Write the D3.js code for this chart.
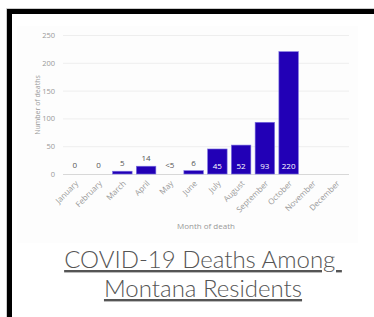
<!DOCTYPE html>
<html>
<head>
<meta charset="utf-8">
<script src="https://cdn.jsdelivr.net/npm/d3@7"></script>
<style>
  body { margin: 0; background: #fff; }
  svg { display: block; }
</style>
</head>
<body>
<div id="chart"></div>
<script>
const months = ["January", "February", "March", "April", "May", "June",
    "July", "August", "September", "October", "November", "December"]
const deaths = [0, 0, 5, 14, null, 6, 45, 52, 93, 220, null, null]
const labels = ["0", "0", "5", "14", "<5", "6", "45", "52", "93", "220", "", ""]
const yTicks = [0, 50, 100, 150, 200, 250]
const titleLines = ["COVID-19 Deaths Among ", "Montana Residents"]

const W = 374, H = 317

const svg = d3.select("#chart").append("svg")
    .attr("width", W)
    .attr("height", H)

// frame
svg.append("path")
    .attr("d", "M9.5,317 V11.5 H374")
    .style("fill", "none")
    .style("stroke", "#000")
    .style("stroke-width", 5)
svg.append("path")
    .attr("d", "M6.5,317 V8.5 H374")
    .style("fill", "none")
    .style("stroke", "#ccc")
    .style("stroke-width", 1)

// chart panel
svg.append("rect")
    .attr("x", 17).attr("y", 26)
    .attr("width", 341).attr("height", 217)
    .style("fill", "#fdfdfd")

const x = d3.scaleBand()
    .domain(months)
    .range([63, 348])
    .paddingInner(0.18)
    .paddingOuter(0.09)

const y = d3.scaleLinear()
    .domain([0, 250])
    .range([174, 35])

const font = "'Open Sans', sans-serif"

// grid
const grid = svg.append("g")
grid.selectAll("line")
    .data(yTicks)
    .join("line")
    .attr("x1", 63)
    .attr("x2", 349)
    .attr("y1", d => y(d) + 0.5)
    .attr("y2", d => y(d) + 0.5)
    .style("stroke", d => d === 0 ? "#d8d8d8" : "#eeeeee")
    .style("stroke-width", 1)

// y axis labels
const yAxis = svg.append("g")
    .attr("transform", "translate(57,0)")
    .call(d3.axisLeft(y).tickValues(yTicks).tickSize(0).tickPadding(2))
yAxis.select(".domain").remove()
yAxis.selectAll("text")
    .style("font-family", font)
    .style("font-size", "7.5px")
    .style("fill", "#999")

svg.append("text")
    .attr("transform", "translate(40,105) rotate(-90)")
    .attr("text-anchor", "middle")
    .style("font-family", font)
    .style("font-size", "7px")
    .style("fill", "#999")
    .text("Number of deaths")

// bars
const barData = months.map((m, i) => ({ month: m, value: deaths[i], label: labels[i] }))

svg.append("g")
    .selectAll("rect")
    .data(barData.filter(d => d.value !== null && d.value > 0))
    .join("rect")
    .attr("x", d => x(d.month))
    .attr("y", d => y(d.value))
    .attr("width", x.bandwidth())
    .attr("height", d => y(0) - y(d.value))
    .style("fill", "#2200b6")
    .style("stroke", "#7a6fe0")
    .style("stroke-width", 0.6)

// value labels
svg.append("g")
    .selectAll("text")
    .data(barData.filter(d => d.label !== ""))
    .join("text")
    .attr("x", d => x(d.month) + x.bandwidth() / 2)
    .attr("y", d => {
        const v = d.value === null ? 0 : d.value
        return v > 30 ? y(0) - 5 : Math.min(y(v) - 5, y(0) - 6)
    })
    .attr("text-anchor", "middle")
    .style("font-family", font)
    .style("font-size", "8px")
    .style("fill", d => (d.value || 0) > 30 ? "#fff" : "#555")
    .text(d => d.label)

// x axis labels
const xAxis = svg.append("g")
    .attr("transform", "translate(0,176)")
    .call(d3.axisBottom(x).tickSize(0).tickPadding(0))
xAxis.select(".domain").remove()
xAxis.selectAll("text")
    .attr("text-anchor", "end")
    .attr("y", 0)
    .attr("dy", 0)
    .attr("transform", "translate(4,8) rotate(-45)")
    .style("font-family", font)
    .style("font-size", "8px")
    .style("fill", "#999")

svg.append("text")
    .attr("x", 206)
    .attr("y", 229)
    .attr("text-anchor", "middle")
    .style("font-family", font)
    .style("font-size", "8px")
    .style("fill", "#999")
    .text("Month of death")

// title
svg.append("g")
    .selectAll("text")
    .data(titleLines)
    .join("text")
    .attr("x", 203)
    .attr("y", (d, i) => 268 + i * 29)
    .attr("text-anchor", "middle")
    .style("font-family", "Lato, sans-serif")
    .style("font-size", "24px")
    .style("font-weight", 300)
    .style("fill", "#555")
    .style("text-decoration", "underline")
    .style("white-space", "pre")
    .text(d => d)
</script>
</body>
</html>
